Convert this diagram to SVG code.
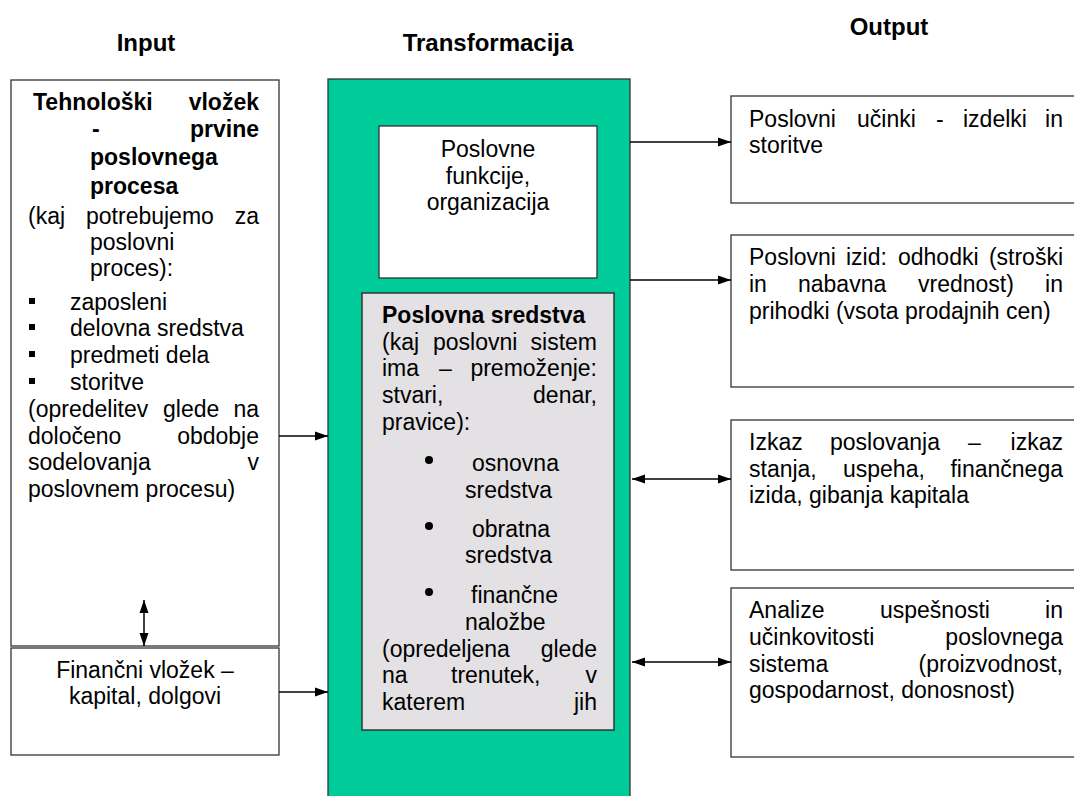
<svg xmlns="http://www.w3.org/2000/svg" width="1074" height="796" viewBox="0 0 1074 796">
  <style>
    text { font-family: "Liberation Sans", Arial, sans-serif; font-size: 23px; fill: #000; }
    .b { font-weight: bold; }
    .h { font-weight: bold; font-size: 24px; text-anchor: middle; }
    .c { text-anchor: middle; }
    .e { text-anchor: end; }
    .box { fill: #fff; stroke: #333; stroke-width: 1.3; }
    .green { fill: #00CC99; stroke: #333; stroke-width: 1.3; }
    .grey { fill: #E3E1E3; stroke: #333; stroke-width: 1.5; }
    .link { stroke: #000; stroke-width: 1.5; fill: none; }
  </style>
  <defs>
    <marker id="head" markerUnits="userSpaceOnUse" markerWidth="13" markerHeight="10" refX="13" refY="5" orient="auto-start-reverse">
      <path d="M0,0.5 L13,5 L0,9.5 z" fill="#000"/>
    </marker>
  </defs>

  <rect width="1074" height="796" fill="#fff"/>

  <!-- column headings -->
  <g id="headings">
    <text class="h" x="146" y="51">Input</text>
    <text class="h" x="488" y="51">Transformacija</text>
    <text class="h" x="889" y="35">Output</text>
  </g>

  <!-- input: technological input -->
  <g id="tehnoloski-vlozek">
    <rect class="box" x="11" y="80" width="268" height="566"/>
    <text class="b" x="33" y="110">Tehnološki</text>
    <text class="b e" x="259" y="110">vložek</text>
    <text class="b" x="92" y="137">-</text>
    <text class="b e" x="259" y="137">prvine</text>
    <text class="b" x="90" y="165">poslovnega</text>
    <text class="b" x="90" y="194">procesa</text>
    <text x="28" y="224">(kaj</text>
    <text x="86" y="224">potrebujemo</text>
    <text class="e" x="259" y="224">za</text>
    <text x="90" y="250">poslovni</text>
    <text x="90" y="276">proces):</text>
    <rect x="29" y="298" width="6" height="6"/>
    <text x="70" y="310">zaposleni</text>
    <rect x="29" y="324" width="6" height="6"/>
    <text x="70" y="336">delovna sredstva</text>
    <rect x="29" y="351" width="6" height="6"/>
    <text x="70" y="363">predmeti dela</text>
    <rect x="29" y="378" width="6" height="6"/>
    <text x="70" y="390">storitve</text>
    <text x="28" y="417">(opredelitev</text>
    <text x="163" y="417">glede</text>
    <text class="e" x="259" y="417">na</text>
    <text x="28" y="444">določeno</text>
    <text class="e" x="259" y="444">obdobje</text>
    <text x="28" y="470">sodelovanja</text>
    <text class="e" x="259" y="470">v</text>
    <text x="28" y="497">poslovnem procesu)</text>
  </g>

  <!-- input: financial input -->
  <g id="financni-vlozek">
    <rect class="box" x="11" y="648" width="268" height="107"/>
    <text class="c" x="145" y="678">Finančni vložek –</text>
    <text class="c" x="145" y="704">kapital, dolgovi</text>
  </g>

  <!-- transformation column -->
  <g id="transformacija">
    <rect class="green" x="328" y="79" width="302" height="730"/>
  </g>

  <g id="poslovne-funkcije">
    <rect class="box" x="379" y="126" width="218" height="152"/>
    <text class="c" x="488" y="157">Poslovne</text>
    <text class="c" x="488" y="184">funkcije,</text>
    <text class="c" x="488" y="210">organizacija</text>
  </g>

  <g id="poslovna-sredstva">
    <rect class="grey" x="362" y="293" width="252" height="437"/>
    <text class="b" x="382" y="323">Poslovna sredstva</text>
    <text x="382" y="350">(kaj</text>
    <text x="433" y="350">poslovni</text>
    <text class="e" x="597" y="350">sistem</text>
    <text x="382" y="376">ima</text>
    <text x="439" y="376">–</text>
    <text class="e" x="597" y="376">premoženje:</text>
    <text x="382" y="403">stvari,</text>
    <text class="e" x="597" y="403">denar,</text>
    <text x="382" y="430">pravice):</text>
    <circle cx="429" cy="460" r="4"/>
    <text x="472" y="471">osnovna</text>
    <text x="465" y="498">sredstva</text>
    <circle cx="429" cy="526" r="4"/>
    <text x="472" y="537">obratna</text>
    <text x="465" y="563">sredstva</text>
    <circle cx="429" cy="592" r="4"/>
    <text x="471" y="603">finančne</text>
    <text x="465" y="630">naložbe</text>
    <text x="382" y="657">(opredeljena</text>
    <text class="e" x="597" y="657">glede</text>
    <text x="382" y="683">na</text>
    <text x="451" y="683">trenutek,</text>
    <text class="e" x="597" y="683">v</text>
    <text x="382" y="710">katerem</text>
    <text class="e" x="597" y="710">jih</text>
  </g>

  <!-- output boxes -->
  <g id="poslovni-ucinki">
    <rect class="box" x="731" y="96" width="360" height="107"/>
    <text x="749" y="127">Poslovni</text>
    <text x="857" y="127">učinki</text>
    <text x="936" y="127">-</text>
    <text x="963" y="127">izdelki</text>
    <text class="e" x="1063" y="127">in</text>
    <text x="749" y="153">storitve</text>
  </g>

  <g id="poslovni-izid">
    <rect class="box" x="731" y="235" width="360" height="152"/>
    <text x="749" y="265">Poslovni</text>
    <text x="846" y="265">izid:</text>
    <text x="898" y="265">odhodki</text>
    <text class="e" x="1063" y="265">(stroški</text>
    <text x="749" y="292">in</text>
    <text x="798" y="292">nabavna</text>
    <text x="918" y="292">vrednost)</text>
    <text class="e" x="1063" y="292">in</text>
    <text x="749" y="319">prihodki (vsota prodajnih cen)</text>
  </g>

  <g id="izkaz-poslovanja">
    <rect class="box" x="731" y="420" width="360" height="150"/>
    <text x="749" y="450">Izkaz</text>
    <text x="830" y="450">poslovanja</text>
    <text x="968" y="450">–</text>
    <text class="e" x="1063" y="450">izkaz</text>
    <text x="749" y="477">stanja,</text>
    <text x="843" y="477">uspeha,</text>
    <text class="e" x="1063" y="477">finančnega</text>
    <text x="749" y="503">izida, gibanja kapitala</text>
  </g>

  <g id="analize-uspesnosti">
    <rect class="box" x="731" y="588" width="360" height="169"/>
    <text x="749" y="618">Analize</text>
    <text x="880" y="618">uspešnosti</text>
    <text class="e" x="1063" y="618">in</text>
    <text x="749" y="645">učinkovitosti</text>
    <text class="e" x="1063" y="645">poslovnega</text>
    <text x="749" y="672">sistema</text>
    <text class="e" x="1063" y="672">(proizvodnost,</text>
    <text x="749" y="698">gospodarnost, donosnost)</text>
  </g>

  <!-- connectors -->
  <g id="connectors">
    <line class="link" x1="144" y1="600" x2="144" y2="646" marker-start="url(#head)" marker-end="url(#head)"/>
    <line class="link" x1="279" y1="436" x2="328" y2="436" marker-end="url(#head)"/>
    <line class="link" x1="279" y1="692" x2="328" y2="692" marker-end="url(#head)"/>
    <line class="link" x1="630" y1="142" x2="731" y2="142" marker-end="url(#head)"/>
    <line class="link" x1="630" y1="280" x2="731" y2="280" marker-end="url(#head)"/>
    <line class="link" x1="632" y1="479" x2="731" y2="479" marker-start="url(#head)" marker-end="url(#head)"/>
    <line class="link" x1="632" y1="662" x2="731" y2="662" marker-start="url(#head)" marker-end="url(#head)"/>
  </g>
</svg>
